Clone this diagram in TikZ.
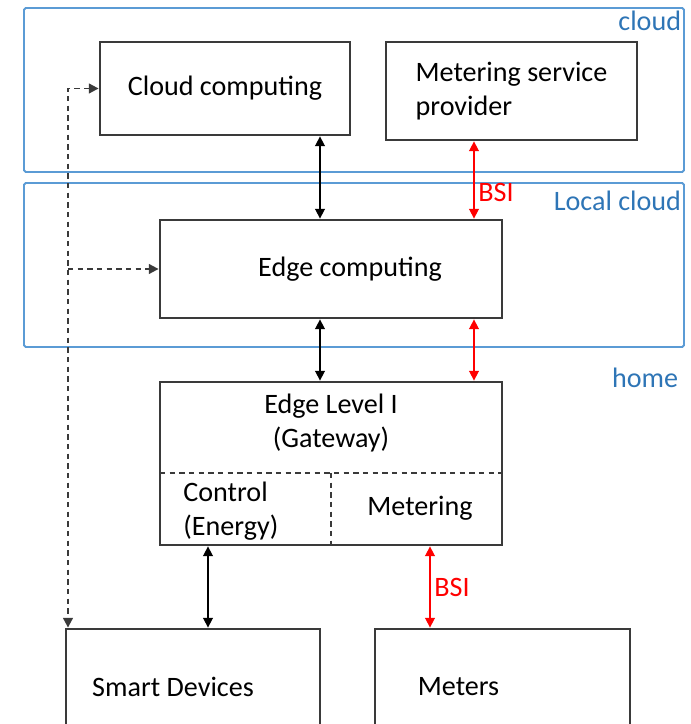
\documentclass[tikz,border=0pt]{standalone}
\usepackage{fontspec}
\setmainfont{Carlito}
\usepackage{tikz}
\usetikzlibrary{arrows.meta, positioning, calc}
\definecolor{zoneblue}{HTML}{5B9BD5}
\definecolor{zonetext}{HTML}{2E75B6}
\definecolor{bsired}{HTML}{FF0000}
\definecolor{boxgray}{HTML}{3A3A3A}

\begin{document}
\begin{tikzpicture}[
    font=\fontsize{16}{19.4}\selectfont,
    box/.style={rectangle, draw=boxgray, line width=1.6pt, fill=white, align=center},
    zone/.style={rectangle, draw=zoneblue, line width=1.1pt, rounded corners=1pt, minimum width=13.2cm, minimum height=3.28cm},
    zonelabel/.style={text=zonetext, inner sep=2pt},
    biarrow/.style={{Triangle[length=5.5pt,width=5.5pt]}-{Triangle[length=5.5pt,width=5.5pt]}, line width=0.9pt, draw=black},
    bsiarrow/.style={{Triangle[length=5.5pt,width=5.5pt]}-{Triangle[length=5.5pt,width=5.5pt]}, line width=0.9pt, draw=bsired},
    bsilabel/.style={text=bsired, inner sep=2pt},
    dasharrow/.style={-{Triangle[length=5.5pt,width=5.5pt]}, line width=1.1pt, draw=boxgray, dash pattern=on 3pt off 2.5pt},
    divider/.style={line width=1.1pt, draw=boxgray, dash pattern=on 3pt off 2.5pt}
]
\useasboundingbox (0,0) rectangle (13.82,14.48);

% Zones
\node[zone] (cloudzone) at (7.08,12.68) {};
\node[zone] (localzone) at (7.08,9.18) {};
\node[zonelabel, anchor=north east] (cloudlbl) at (cloudzone.north east) {cloud};
\node[zonelabel, anchor=north east] (locallbl) at ([yshift=-0.1cm]localzone.north east) {Local cloud};
\node[zonelabel, anchor=east] (homelbl) at (13.64,6.92) {home};

% Boxes
\node[box, minimum width=5cm, minimum height=1.86cm] (cloudc) at (4.5,12.71) {Cloud computing};
\node[box, align=left, minimum width=5.02cm, minimum height=1.96cm] (msp) at (10.23,12.66) {Metering service\\provider};
\node[box, minimum width=6.84cm, minimum height=1.96cm] (edgec) at (6.62,9.1) {\hspace*{0.76cm}Edge computing};
\node[box, minimum width=6.84cm, minimum height=3.26cm] (gateway) at (6.62,5.21) {};
\node[box, minimum width=5.08cm, minimum height=2.3cm] (smartd) at (3.86,0.75) {Smart Devices\hspace*{0.8cm}};
\node[box, minimum width=5.1cm, minimum height=2.3cm] (meters) at (10.05,0.75) {Meters\hspace*{1.76cm}};

% Gateway parts
\node[align=center] (gwtitle) at (6.62,6.02) {Edge Level I\\(Gateway)};
\node[align=left, anchor=west, inner sep=0.1cm] (control) at (3.56,4.26) {Control\\(Energy)};
\node (metering) at (8.4,4.32) {Metering};
\coordinate (splitl) at (3.2,5.02);
\coordinate (splitr) at (10.04,5.02);
\draw[divider] (splitl) -- (splitr);
\draw[divider] (gateway.south |- splitl) -- (gateway.south);

% Columns for connectors
\coordinate (spine) at (6.4,0);
\coordinate (redcol) at (9.48,0);
\coordinate (lowblack) at (4.16,0);
\coordinate (lowred) at (8.6,0);
\coordinate (bus) at (1.36,0);

% Connections
\draw[biarrow] (cloudc.south -| spine) -- (edgec.north -| spine);
\draw[biarrow] (edgec.south -| spine) -- (gateway.north -| spine);
\draw[bsiarrow] (msp.south -| redcol) -- node[bsilabel, pos=0.66, right] {BSI} (edgec.north -| redcol);
\draw[bsiarrow] (edgec.south -| redcol) -- (gateway.north -| redcol);
\draw[biarrow] (gateway.south -| lowblack) -- (smartd.north -| lowblack);
\draw[bsiarrow] (gateway.south -| lowred) -- node[bsilabel, right] {BSI} (meters.north -| lowred);
\draw[dasharrow, {Triangle[length=5.5pt,width=5.5pt]}-{Triangle[length=5.5pt,width=5.5pt]}] (cloudc.west) -| (smartd.north -| bus);
\draw[dasharrow] (edgec.west -| bus) -- (edgec.west);

\end{tikzpicture}
\end{document}
